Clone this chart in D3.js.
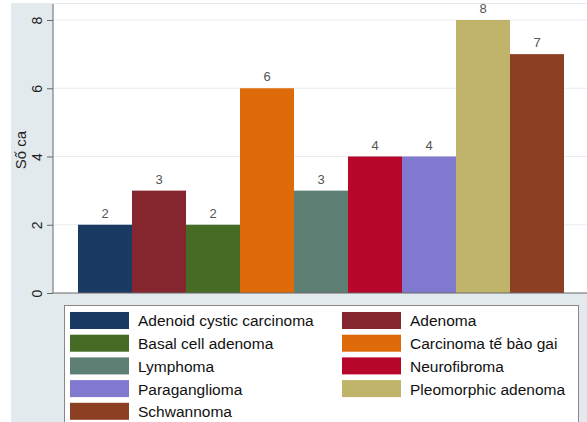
<!DOCTYPE html>
<html>
<head>
<meta charset="utf-8">
<script src="https://cdn.jsdelivr.net/npm/d3@7"></script>
<style>
  body { margin: 0; background: #fff; }
  svg { display: block; font-family: "Liberation Sans", Arial, sans-serif; }
</style>
</head>
<body>
<div id="bar-chart"></div>
<script>
/* Số ca theo loại u */

const categories = ["Adenoid cystic carcinoma", "Adenoma", "Basal cell adenoma",
    "Carcinoma tế bào gai", "Lymphoma", "Neurofibroma", "Paraganglioma",
    "Pleomorphic adenoma", "Schwannoma"];
const counts = [2, 3, 2, 6, 3, 4, 4, 8, 7];
const yTicks = [0, 2, 4, 6, 8];
const colors = ["#1b3a63", "#85262e", "#456b24", "#de6a0a", "#5e7f74",
    "#b8062b", "#8179cf", "#c0b46a", "#8c3f22"];

const width = 587, height = 422;
const margin = {top: 4, right: 0, bottom: 129, left: 53};

let svg = d3.select("#bar-chart")
    .append("svg")
    .attr("width", width)
    .attr("height", height);

// outer background + plot region
svg.append("rect")
    .attr("x", 11).attr("y", 3)
    .attr("width", width - 11).attr("height", height - 3)
    .attr("fill", "#e3eaee");

svg.append("rect")
    .attr("x", margin.left).attr("y", margin.top)
    .attr("width", width - margin.left).attr("height", height - margin.bottom - margin.top)
    .attr("fill", "#fff");

const x = d3.scaleBand()
    .domain(categories)
    .range([78, 564]);

const y = d3.scaleLinear()
    .domain([0, 8])
    .range([293, 20]);

// gridlines
svg.append("g")
    .selectAll("line")
    .data(yTicks.filter(d => d > 0))
    .join("line")
    .attr("x1", margin.left).attr("x2", width)
    .attr("y1", d => y(d)).attr("y2", d => y(d))
    .attr("stroke", "#e8ecee")
    .attr("stroke-width", 1);

// bars
let bar = svg.selectAll(".bar")
    .data(categories)
    .join("g")
    .attr("class", "bar");

bar.append("rect")
    .attr("x", d => x(d))
    .attr("width", x.bandwidth())
    .attr("y", (d, i) => y(counts[i]))
    .attr("height", (d, i) => y(0) - y(counts[i]))
    .attr("fill", (d, i) => colors[i]);

bar.append("text")
    .text((d, i) => counts[i])
    .attr("x", d => x(d) + x.bandwidth() / 2)
    .attr("y", (d, i) => y(counts[i]) - 7)
    .attr("text-anchor", "middle")
    .style("font-size", "13px")
    .style("fill", "#555");

// y axis
const yAxis = g => g
    .attr("transform", `translate(${margin.left},0)`)
    .call(d3.axisLeft(y).tickValues(yTicks).tickSize(6).tickPadding(4))
    .call(g => g.select(".domain").attr("stroke", "#666").attr("d", `M0,${y(0)}V${margin.top}`))
    .call(g => g.selectAll(".tick line").attr("stroke", "#666"))
    .call(g => g.selectAll(".tick text")
        .attr("transform", "rotate(-90)")
        .attr("x", 0).attr("y", -16)
        .attr("dy", "0.35em")
        .attr("text-anchor", "middle")
        .style("font-size", "14px")
        .style("font-family", "Liberation Sans, Arial, sans-serif")
        .style("fill", "#222"));

svg.append("g").call(yAxis);

// x axis line
svg.append("line")
    .attr("x1", margin.left).attr("x2", width)
    .attr("y1", y(0)).attr("y2", y(0))
    .attr("stroke", "#666");

svg.append("text")
    .attr("transform", "translate(21,150) rotate(-90)")
    .attr("text-anchor", "middle")
    .attr("dy", "0.35em")
    .style("font-size", "15px")
    .style("fill", "#222")
    .text("Số ca");

// legend
svg.append("rect")
    .attr("x", 64.5).attr("y", 305.5)
    .attr("width", 514).attr("height", 130)
    .attr("fill", "#fff")
    .attr("stroke", "#888");

let legend = svg.selectAll(".legend")
    .data(categories)
    .join("g")
    .attr("class", "legend")
    .attr("transform", (d, i) => `translate(${i % 2 ? 342 : 70},${312 + Math.floor(i / 2) * 22.7})`);

legend.append("rect")
    .attr("width", 59)
    .attr("height", 17)
    .attr("fill", (d, i) => colors[i]);

legend.append("text")
    .attr("x", 68)
    .attr("y", 9)
    .attr("dy", "0.35em")
    .style("font-size", "15.5px")
    .style("fill", "#111")
    .text(d => d);
</script>
</body>
</html>
